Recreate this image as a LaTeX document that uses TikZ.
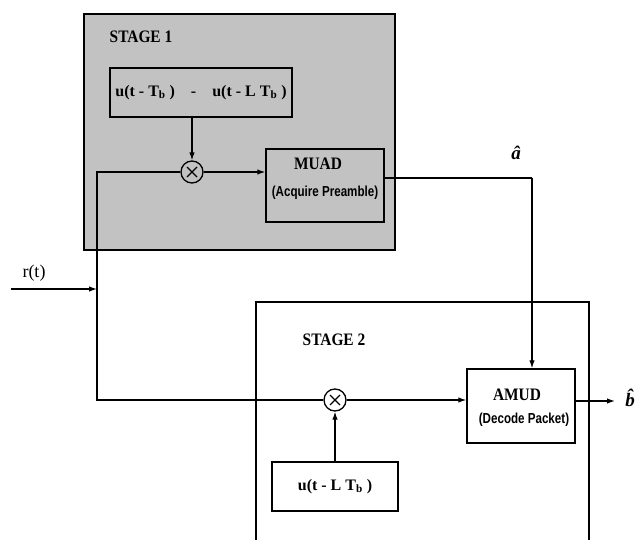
\documentclass[tikz,border=0pt]{standalone}
\usepackage{fontspec}
\setmainfont{Liberation Serif}
\newfontfamily\narrowserif[FakeStretch=0.88]{Liberation Serif}
\newfontfamily\narrowsans[FakeStretch=0.80]{Liberation Sans}
\usetikzlibrary{arrows.meta}
\tikzset{
  line/.style={line width=1.2pt},
  arr/.style={line width=1.2pt,-{Latex[length=8pt,width=5.5pt]}},
  blk/.style={draw,line width=1.4pt,inner sep=0pt,align=center},
  mult/.style={draw,circle,line width=1.3pt,minimum size=22pt,inner sep=0pt,
    path picture={\draw[line width=1.3pt]
      ([shift={(-5pt,-5pt)}]path picture bounding box.center) -- ([shift={(5pt,5pt)}]path picture bounding box.center)
      ([shift={(-5pt,5pt)}]path picture bounding box.center) -- ([shift={(5pt,-5pt)}]path picture bounding box.center);}},
  boldtxt/.style={font=\narrowserif\fontsize{17.5}{19}\selectfont\bfseries},
  wintxt/.style={font=\fontsize{16}{18}\selectfont\bfseries},
  sub/.style={font=\narrowsans\fontsize{14.5}{16}\selectfont\bfseries}
}
\begin{document}
\begin{tikzpicture}[x=1pt,y=-1pt]
\useasboundingbox (0,0) rectangle (637,540);
% stage 1 shaded region
\fill[black!24] (84,14) rectangle (395,250);
\draw[line width=1.4pt] (84,14) rectangle (395,250);
\node[boldtxt] (s1) at (141,37) {STAGE 1};
\node[blk,wintxt,minimum width=182pt,minimum height=49pt] (win) at (201,92.5)
  {u(t - T\textsubscript{b} )\quad-\quad u(t - L T\textsubscript{b} )};
\node[mult] (c1) at (192,172) {};
\node[blk,minimum width=118pt,minimum height=73pt] (muad) at (325,185.5) {};
\node[boldtxt] (muadt) at (318,164) {MUAD};
\node[sub] (muads) at (325,193) {(Acquire Preamble)};
% stage 2 region
\draw[line width=1.4pt] (256,540) -- (256,302) -- (589,302) -- (589,540);
\node[boldtxt] (s2) at (334,340) {STAGE 2};
\node[mult] (c2) at (335,400) {};
\node[blk,wintxt,minimum width=126pt,minimum height=49pt] (win2) at (335,486.5)
  {u(t - L T\textsubscript{b} )};
\node[blk,minimum width=108pt,minimum height=74pt] (amud) at (521,406) {};
\node[boldtxt] (amudt) at (517,395) {AMUD};
\node[sub] (amuds) at (524,420) {(Decode Packet)};
% labels
\node[font=\fontsize{18}{20}\selectfont] (rt) at (34,273) {r(t)};
\node[font=\fontsize{19}{21}\selectfont\bfseries\itshape] (ahat) at (516,153) {â};
\node[font=\fontsize{19}{21}\selectfont\bfseries\itshape] (bhat) at (630,398) {\^{b}};
% coordinates
\coordinate (rs) at (11,289);
\coordinate (j1) at (97,172);
\coordinate (j2) at (97,400);
\coordinate (ca) at (532,178);
\coordinate (bo) at (615,401);
% connectors
\draw[arr] (rs) -- (j1 |- rs);
\draw[line] (c1.west) -- (j1) -- (j2) -- (c2.west);
\draw[arr] (win.south -| c1) -- (c1.north);
\draw[arr] (c1.east) -- (muad.west |- c1);
\draw[line] (muad.east |- ca) -- (ca);
\draw[arr] (ca) -- (amud.north -| ca);
\draw[arr] (c2.east) -- (amud.west |- c2);
\draw[arr] (win2.north) -- (c2.south);
\draw[arr] (amud.east |- bo) -- (bo);
\end{tikzpicture}
\end{document}
